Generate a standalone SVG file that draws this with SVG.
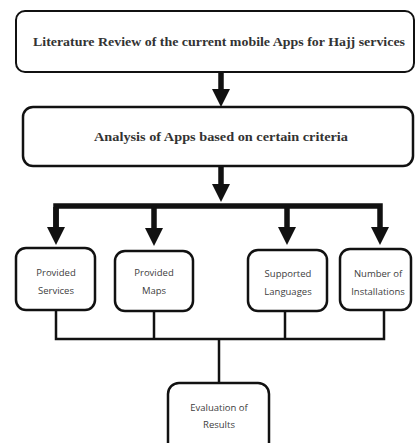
<svg xmlns="http://www.w3.org/2000/svg" width="415" height="443" viewBox="0 0 415 443">
<style>
.box{fill:#fff;stroke:#111;stroke-width:2.5}
.serif{font-family:"Liberation Serif","Times New Roman",serif;font-weight:bold;fill:#333;text-anchor:middle}
.sans{font-family:"Open Sans","Liberation Sans",Arial,sans-serif;font-size:9.5px;fill:#404040;text-anchor:middle}
.thick{fill:none;stroke:#111;stroke-width:5.5;stroke-linejoin:miter}
.thin{fill:none;stroke:#111;stroke-width:2.5}
</style>
<defs>
<marker id="ah" viewBox="0 0 18 18" markerWidth="18" markerHeight="18" markerUnits="userSpaceOnUse" orient="auto" refX="0" refY="9">
<path d="M0,0 L18,9 L0,18 z" fill="#111"/>
</marker>
</defs>
<g id="connectors">
<path class="thick" d="M221,72 V89" marker-end="url(#ah)"/>
<path class="thick" d="M221,166 V184" marker-end="url(#ah)"/>
<path class="thick" d="M56,227 V206 H380 V227" marker-end="url(#ah)"/>
<path class="thick" d="M56,207 V227" marker-end="url(#ah)"/>
<path class="thick" d="M154,206 V228" marker-end="url(#ah)"/>
<path class="thick" d="M287,206 V227" marker-end="url(#ah)"/>
<path class="thin" d="M56,310 V339 H384 V310"/>
<path class="thin" d="M154,311 V339"/>
<path class="thin" d="M285,311 V339"/>
<path class="thin" d="M219,339 V383"/>
</g>
<g id="lit-review">
<rect class="box" x="16" y="11" width="398" height="61" rx="9" style="stroke-width:2"/>
<text class="serif" x="219" y="46" font-size="13.5" textLength="372" lengthAdjust="spacingAndGlyphs">Literature Review of the current mobile Apps for Hajj services</text>
</g>
<g id="analysis">
<rect class="box" x="23" y="107" width="390" height="59" rx="10"/>
<text class="serif" x="221" y="141" font-size="13.5" textLength="254" lengthAdjust="spacingAndGlyphs">Analysis of Apps based on certain criteria</text>
</g>
<g id="provided-services">
<rect class="box" x="16" y="248" width="79" height="62" rx="10"/>
<text class="sans" x="56" y="276">Provided</text>
<text class="sans" x="56" y="294">Services</text>
</g>
<g id="provided-maps">
<rect class="box" x="115" y="251" width="78" height="60" rx="10"/>
<text class="sans" x="154" y="276">Provided</text>
<text class="sans" x="154" y="294">Maps</text>
</g>
<g id="supported-languages">
<rect class="box" x="248" y="250" width="79" height="61" rx="10"/>
<text class="sans" x="288" y="277">Supported</text>
<text class="sans" x="288" y="295">Languages</text>
</g>
<g id="number-installations">
<rect class="box" x="340" y="249" width="71" height="61" rx="10"/>
<text class="sans" x="378" y="277">Number of</text>
<text class="sans" x="378" y="295">Installations</text>
</g>
<g id="evaluation">
<rect class="box" x="168" y="383" width="101" height="72" rx="11"/>
<text class="sans" x="219" y="411">Evaluation of</text>
<text class="sans" x="219" y="428">Results</text>
</g>
</svg>
